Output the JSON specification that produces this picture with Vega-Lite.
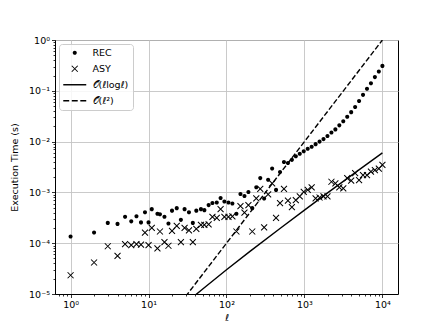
{
  "$schema": "https://vega.github.io/schema/vega-lite/v6.json",
  "width": 343,
  "height": 254,
  "autosize": {"type": "none"},
  "padding": {"left": 55, "top": 40, "right": 42, "bottom": 36},
  "background": "white",
  "config": {
    "view": {"stroke": "black", "strokeWidth": 1},
    "font": "DejaVu Sans",
    "axis": {
      "domainColor": "black", "domainWidth": 1,
      "tickColor": "black", "tickWidth": 0.8,
      "labelColor": "black", "labelFont": "DejaVu Sans", "labelFontSize": 9.5,
      "titleFont": "DejaVu Sans", "titleFontSize": 9.5, "titleFontWeight": "normal", "titleColor": "black",
      "gridColor": "#c4c4c4", "gridWidth": 0.9
    }
  },
  "datasets": {
    "pts": [
      {"l":1,"t":1.35e-4,"s":"REC"},{"l":2,"t":1.62e-4,"s":"REC"},{"l":3,"t":2.51e-4,"s":"REC"},{"l":4,"t":2.40e-4,"s":"REC"},
      {"l":5,"t":3.31e-4,"s":"REC"},{"l":6,"t":2.69e-4,"s":"REC"},{"l":7,"t":3.39e-4,"s":"REC"},{"l":8,"t":2.57e-4,"s":"REC"},
      {"l":9,"t":4.07e-4,"s":"REC"},{"l":10,"t":2.57e-4,"s":"REC"},{"l":11,"t":4.68e-4,"s":"REC"},{"l":13,"t":3.80e-4,"s":"REC"},
      {"l":14,"t":3.72e-4,"s":"REC"},{"l":16,"t":3.31e-4,"s":"REC"},{"l":18,"t":2.45e-4,"s":"REC"},{"l":20,"t":4.37e-4,"s":"REC"},
      {"l":23,"t":4.90e-4,"s":"REC"},{"l":26,"t":2.88e-4,"s":"REC"},{"l":29,"t":4.68e-4,"s":"REC"},{"l":33,"t":4.07e-4,"s":"REC"},
      {"l":37,"t":2.51e-4,"s":"REC"},{"l":41,"t":4.37e-4,"s":"REC"},{"l":47,"t":4.68e-4,"s":"REC"},{"l":52,"t":4.47e-4,"s":"REC"},
      {"l":59,"t":5.62e-4,"s":"REC"},{"l":66,"t":6.17e-4,"s":"REC"},{"l":75,"t":6.31e-4,"s":"REC"},{"l":84,"t":7.76e-4,"s":"REC"},
      {"l":94,"t":6.61e-4,"s":"REC"},{"l":106,"t":6.31e-4,"s":"REC"},{"l":119,"t":6.03e-4,"s":"REC"},{"l":134,"t":3.80e-4,"s":"REC"},
      {"l":151,"t":9.33e-4,"s":"REC"},{"l":170,"t":8.51e-4,"s":"REC"},{"l":191,"t":1.02e-3,"s":"REC"},{"l":214,"t":4.90e-4,"s":"REC"},
      {"l":241,"t":1.26e-3,"s":"REC"},{"l":271,"t":1.91e-3,"s":"REC"},{"l":304,"t":7.59e-4,"s":"REC"},{"l":342,"t":1.78e-3,"s":"REC"},
      {"l":385,"t":2.95e-3,"s":"REC"},{"l":432,"t":1.12e-3,"s":"REC"},{"l":486,"t":2.51e-3,"s":"REC"},{"l":546,"t":3.98e-3,"s":"REC"},
      {"l":614,"t":3.80e-3,"s":"REC"},{"l":690,"t":4.37e-3,"s":"REC"},{"l":775,"t":5.13e-3,"s":"REC"},{"l":871,"t":5.75e-3,"s":"REC"},
      {"l":979,"t":6.46e-3,"s":"REC"},{"l":1101,"t":7.24e-3,"s":"REC"},{"l":1237,"t":7.94e-3,"s":"REC"},{"l":1390,"t":8.91e-3,"s":"REC"},
      {"l":1562,"t":1.00e-2,"s":"REC"},{"l":1756,"t":1.12e-2,"s":"REC"},{"l":1973,"t":1.29e-2,"s":"REC"},{"l":2218,"t":1.51e-2,"s":"REC"},
      {"l":2492,"t":1.74e-2,"s":"REC"},{"l":2801,"t":2.09e-2,"s":"REC"},{"l":3148,"t":2.51e-2,"s":"REC"},{"l":3537,"t":3.09e-2,"s":"REC"},
      {"l":3975,"t":3.80e-2,"s":"REC"},{"l":4467,"t":4.79e-2,"s":"REC"},{"l":5020,"t":6.31e-2,"s":"REC"},{"l":5642,"t":8.32e-2,"s":"REC"},
      {"l":6341,"t":0.110,"s":"REC"},{"l":7126,"t":0.141,"s":"REC"},{"l":8008,"t":0.186,"s":"REC"},{"l":8999,"t":0.240,"s":"REC"},
      {"l":10000,"t":0.309,"s":"REC"},
      {"l":1,"t":2.34e-5,"s":"ASY"},{"l":2,"t":4.17e-5,"s":"ASY"},{"l":3,"t":8.71e-5,"s":"ASY"},{"l":4,"t":5.62e-5,"s":"ASY"},
      {"l":5,"t":9.55e-5,"s":"ASY"},{"l":6,"t":9.12e-5,"s":"ASY"},{"l":7,"t":9.55e-5,"s":"ASY"},{"l":8,"t":9.33e-5,"s":"ASY"},
      {"l":9,"t":1.62e-4,"s":"ASY"},{"l":10,"t":9.12e-5,"s":"ASY"},{"l":11,"t":2.00e-4,"s":"ASY"},{"l":13,"t":7.94e-5,"s":"ASY"},
      {"l":14,"t":1.70e-4,"s":"ASY"},{"l":16,"t":1.05e-4,"s":"ASY"},{"l":18,"t":8.91e-5,"s":"ASY"},{"l":20,"t":1.74e-4,"s":"ASY"},
      {"l":23,"t":2.19e-4,"s":"ASY"},{"l":26,"t":1.05e-4,"s":"ASY"},{"l":29,"t":2.00e-4,"s":"ASY"},{"l":33,"t":1.78e-4,"s":"ASY"},
      {"l":37,"t":1.05e-4,"s":"ASY"},{"l":41,"t":1.91e-4,"s":"ASY"},{"l":47,"t":2.29e-4,"s":"ASY"},{"l":52,"t":2.29e-4,"s":"ASY"},
      {"l":59,"t":2.34e-4,"s":"ASY"},{"l":66,"t":3.31e-4,"s":"ASY"},{"l":75,"t":3.16e-4,"s":"ASY"},{"l":84,"t":4.68e-4,"s":"ASY"},
      {"l":94,"t":3.31e-4,"s":"ASY"},{"l":106,"t":3.31e-4,"s":"ASY"},{"l":119,"t":3.39e-4,"s":"ASY"},{"l":134,"t":1.70e-4,"s":"ASY"},
      {"l":151,"t":5.37e-4,"s":"ASY"},{"l":170,"t":3.98e-4,"s":"ASY"},{"l":191,"t":5.62e-4,"s":"ASY"},{"l":214,"t":1.70e-4,"s":"ASY"},
      {"l":241,"t":7.59e-4,"s":"ASY"},{"l":271,"t":1.17e-3,"s":"ASY"},{"l":304,"t":2.04e-4,"s":"ASY"},{"l":342,"t":9.12e-4,"s":"ASY"},
      {"l":385,"t":1.51e-3,"s":"ASY"},{"l":432,"t":3.16e-4,"s":"ASY"},{"l":486,"t":6.17e-4,"s":"ASY"},{"l":546,"t":1.17e-3,"s":"ASY"},
      {"l":614,"t":6.92e-4,"s":"ASY"},{"l":690,"t":5.13e-4,"s":"ASY"},{"l":775,"t":7.08e-4,"s":"ASY"},{"l":871,"t":8.32e-4,"s":"ASY"},
      {"l":979,"t":1.02e-3,"s":"ASY"},{"l":1101,"t":1.12e-3,"s":"ASY"},{"l":1237,"t":1.26e-3,"s":"ASY"},{"l":1390,"t":7.59e-4,"s":"ASY"},
      {"l":1562,"t":7.94e-4,"s":"ASY"},{"l":1756,"t":8.32e-4,"s":"ASY"},{"l":1973,"t":8.32e-4,"s":"ASY"},{"l":2218,"t":1.62e-3,"s":"ASY"},
      {"l":2492,"t":1.51e-3,"s":"ASY"},{"l":2801,"t":1.26e-3,"s":"ASY"},{"l":3148,"t":1.20e-3,"s":"ASY"},{"l":3537,"t":1.91e-3,"s":"ASY"},
      {"l":3975,"t":1.70e-3,"s":"ASY"},{"l":4467,"t":2.40e-3,"s":"ASY"},{"l":5020,"t":1.74e-3,"s":"ASY"},{"l":5642,"t":2.19e-3,"s":"ASY"},
      {"l":6341,"t":2.19e-3,"s":"ASY"},{"l":7126,"t":2.57e-3,"s":"ASY"},{"l":8008,"t":2.75e-3,"s":"ASY"},{"l":8999,"t":2.95e-3,"s":"ASY"},
      {"l":10000,"t":3.47e-3,"s":"ASY"}
    ],
    "nlogn": [
      {"l":10,"t":1.497e-6},{"l":20,"t":3.894e-6},{"l":30,"t":6.632e-6},{"l":50,"t":1.2714e-5},{"l":100,"t":2.993e-5},
      {"l":200,"t":6.888e-5},{"l":500,"t":2.0197e-4},{"l":1000,"t":4.490e-4},{"l":2000,"t":9.881e-4},{"l":5000,"t":2.768e-3},{"l":10000,"t":5.987e-3}
    ],
    "nsq": [
      {"l":10,"t":1e-6},{"l":100,"t":1e-4},{"l":1000,"t":1e-2},{"l":10000,"t":1.0}
    ]
  },
  "resolve": {"axis": {"x": "independent", "y": "independent"}},
  "layer": [
    {
      "data": {"name": "pts"},
      "mark": {"type": "point", "filled": true, "color": "black", "size": 36, "opacity": 1},
      "encoding": {
        "x": {"field": "l", "type": "quantitative",
              "scale": {"type": "log", "domain": [0.631, 15849], "nice": false, "zero": false},
              "axis": {"orient": "bottom", "values": [1, 10, 100, 1000, 10000], "grid": true, "tickSize": 3.5,
                       "labelExpr": "['10⁰','10¹','10²','10³','10⁴'][round(log(datum.value)/LN10)]",
                       "labelPadding": 2, "title": "ℓ", "titleFontStyle": "italic", "titlePadding": 3, "labelFlush": false}},
        "y": {"field": "t", "type": "quantitative",
              "scale": {"type": "log", "domain": [1e-5, 1], "nice": false, "zero": false},
              "axis": {"orient": "left", "values": [1e-5, 1e-4, 1e-3, 1e-2, 1e-1, 1], "grid": true, "tickSize": 3.5,
                       "labelExpr": "['10⁻⁵','10⁻⁴','10⁻³','10⁻²','10⁻¹','10⁰'][round(log(datum.value)/LN10)+5]",
                       "labelPadding": 2, "title": "Execution Time (s)", "titlePadding": 9, "labelFlush": false}},
        "shape": {"field": "s", "type": "nominal",
                  "scale": {"domain": ["REC", "ASY", "𝒪(ℓlogℓ)", "𝒪(ℓ²)"],
                            "range": ["M-0.68,0A0.68,0.68 0 1,0 0.68,0A0.68,0.68 0 1,0 -0.68,0Z",
                                      "M-0.88,-1.12L1.12,0.88L0.88,1.12L-1.12,-0.88ZM-0.88,1.12L-1.12,0.88L0.88,-1.12L1.12,-0.88Z",
                                      "M-3.83,-0.24H3.83V0.24H-3.83Z",
                                      "M-3.83,-0.24H-1.85V0.24H-3.83ZM-0.99,-0.24H0.99V0.24H-0.99ZM1.85,-0.24H3.83V0.24H1.85Z"]},
                  "legend": {"title": null, "orient": "none", "legendX": 4, "legendY": 4,
                             "fillColor": "rgba(255,255,255,0.85)", "strokeColor": "#cccccc", "cornerRadius": 3,
                             "padding": 4, "symbolSize": 36, "symbolFillColor": "black", "symbolStrokeWidth": 0,
                             "symbolOffset": 7, "labelOffset": 13, "labelFontSize": 9.5,
                             "labelFont": "DejaVu Sans", "labelColor": "black", "rowPadding": 5}}
      }
    },
    {
      "data": {"name": "nlogn"},
      "mark": {"type": "line", "color": "black", "strokeWidth": 1.4, "clip": true},
      "encoding": {
        "x": {"field": "l", "type": "quantitative",
              "scale": {"type": "log", "domain": [0.631, 15849], "nice": false, "zero": false},
              "axis": {"orient": "bottom", "values": [0.7,0.8,0.9,2,3,4,5,6,7,8,9,20,30,40,50,60,70,80,90,200,300,400,500,600,700,800,900,2000,3000,4000,5000,6000,7000,8000,9000],
                       "labels": false, "grid": false, "domain": false, "tickSize": 2, "title": null}},
        "y": {"field": "t", "type": "quantitative",
              "scale": {"type": "log", "domain": [1e-5, 1], "nice": false, "zero": false},
              "axis": {"orient": "left", "values": [2e-5,3e-5,4e-5,5e-5,6e-5,7e-5,8e-5,9e-5,2e-4,3e-4,4e-4,5e-4,6e-4,7e-4,8e-4,9e-4,2e-3,3e-3,4e-3,5e-3,6e-3,7e-3,8e-3,9e-3,0.02,0.03,0.04,0.05,0.06,0.07,0.08,0.09,0.2,0.3,0.4,0.5,0.6,0.7,0.8,0.9],
                       "labels": false, "grid": false, "domain": false, "tickSize": 2, "title": null}}
      }
    },
    {
      "data": {"name": "nsq"},
      "mark": {"type": "line", "color": "black", "strokeWidth": 1.4, "strokeDash": [5.3, 2.3], "clip": true},
      "encoding": {
        "x": {"field": "l", "type": "quantitative",
              "scale": {"type": "log", "domain": [0.631, 15849], "nice": false, "zero": false}, "axis": null},
        "y": {"field": "t", "type": "quantitative",
              "scale": {"type": "log", "domain": [1e-5, 1], "nice": false, "zero": false}, "axis": null}
      }
    }
  ]
}
